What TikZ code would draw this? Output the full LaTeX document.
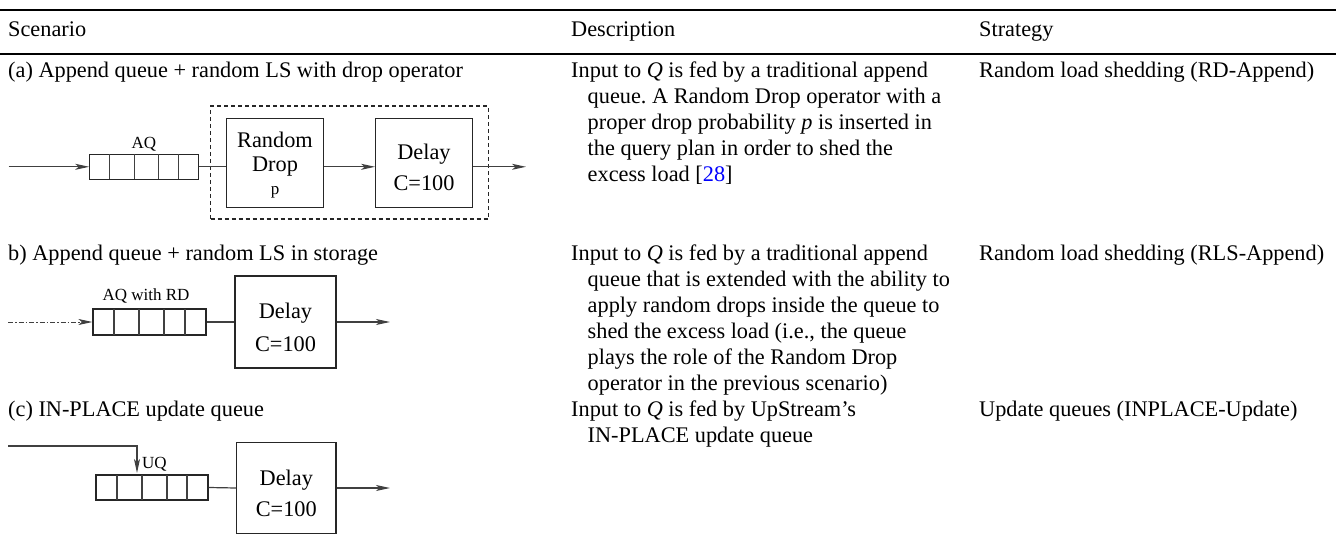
\documentclass[tikz,border=0pt]{standalone}
\usepackage{fontspec}
\setmainfont{Liberation Serif}
\usetikzlibrary{arrows.meta}
\frenchspacing
\begin{document}
\begin{tikzpicture}[x=1pt,y=-1pt,
  txt/.style={anchor=base west, inner sep=0pt, font=\fontsize{22.3}{26}\selectfont},
  lbl/.style={anchor=base, inner sep=0pt, font=\fontsize{22.3}{26}\selectfont},
  sml/.style={anchor=base, inner sep=0pt, font=\fontsize{17}{20}\selectfont},
  opbox/.style={draw=black!85, line width=1.2pt, inner sep=0pt, rectangle},
  conn/.style={draw=black!75, line width=1.2pt},
  arr/.style={conn, -{Stealth[length=14pt,width=6pt,inset=3.5pt]}},
  rulethin/.style={draw=black, line width=1.4pt},
  rulethick/.style={draw=black, line width=2.2pt},
]
\useasboundingbox (0,0) rectangle (1336,548);

% rules
\coordinate (r1l) at (0,10);   \coordinate (r1r) at (1336,10);
\coordinate (r2l) at (0,54);   \coordinate (r2r) at (1336,54);
\draw[rulethin] (r1l) -- (r1r);
\draw[rulethick] (r2l) -- (r2r);

% header
\node[txt] (h1) at (8,37) {Scenario};
\node[txt] (h2) at (571,37) {Description};
\node[txt] (h3) at (979,37) {Strategy};

% ---------- row (a) ----------
\node[txt] (sa) at (8,77.3) {(a) Append queue + random LS with drop operator};
\node[txt] (da1) at (571,77.3) {Input to \textit{Q} is fed by a traditional append};
\node[txt] (da2) at (587.5,103.3) {queue. A Random Drop operator with a};
\node[txt] (da3) at (587.5,129.3) {proper drop probability \textit{p} is inserted in};
\node[txt] (da4) at (587.5,155.3) {the query plan in order to shed the};
\node[txt] (da5) at (587.5,181.3) {excess load [{\color{blue}28}]};
\node[txt] (ta) at (979,77.3) {Random load shedding (RD-Append)};

\node[draw=black!85, line width=1.1pt, dash pattern=on 4pt off 3pt, inner sep=0pt,
      minimum width=277.6pt, minimum height=113pt] (grp) at (349.5,162.5) {};
\node[opbox, minimum width=109pt, minimum height=25pt] (qa) at (144.3,166.8) {};
\foreach \d in {109.7,134.5,158.6,178.6} \draw[conn] (\d,154.3) -- (\d,179.3);
\node[sml] (aq) at (144,149) {AQ};
\coordinate (ina) at (8.6,166.8);
\node[opbox, minimum width=96.6pt, minimum height=89pt] (rd) at (275,162.8) {};
\node[lbl] (rd1) at (275,147.3) {Random};
\node[lbl] (rd2) at (275,171.7) {Drop};
\node[sml] (rd3) at (275,195) {p};
\node[opbox, minimum width=96.6pt, minimum height=88.6pt] (dla) at (424,163) {};
\node[lbl] (dla1) at (424,160) {Delay};
\node[lbl] (dla2) at (424,190.7) {C=100};
\coordinate (outa) at (526,166.8);
\draw[arr] (ina) -- (qa.west);
\draw[conn] (qa.east) -- (qa.east -| rd.west);
\draw[arr] (rd.east |- qa.east) -- (dla.west |- qa.east);
\draw[arr] (dla.east |- qa.east) -- (outa);

% ---------- row (b) ----------
\node[txt] (sb) at (8,260) {b) Append queue + random LS in storage};
\node[txt] (db1) at (571,260) {Input to \textit{Q} is fed by a traditional append};
\node[txt] (db2) at (587.5,286) {queue that is extended with the ability to};
\node[txt] (db3) at (587.5,312) {apply random drops inside the queue to};
\node[txt] (db4) at (587.5,338) {shed the excess load (i.e., the queue};
\node[txt] (db5) at (587.5,364) {plays the role of the Random Drop};
\node[txt] (db6) at (587.5,390) {operator in the previous scenario)};
\node[txt] (tb) at (979,260) {Random load shedding (RLS-Append)};

\node[opbox, minimum width=113pt, minimum height=26pt] (qb) at (149.5,322) {};
\foreach \d in {114,139,164,185} \draw[conn] (\d,309) -- (\d,335);
\node[sml] (aqb) at (146,300) {AQ with RD};
\coordinate (inb) at (8,322);
\node[opbox, minimum width=101pt, minimum height=92pt] (dlb) at (285.5,322) {};
\node[lbl] (dlb1) at (285.5,318) {Delay};
\node[lbl] (dlb2) at (285.5,351) {C=100};
\coordinate (outb) at (390,322);
\draw[arr, line width=0.9pt, dash pattern=on 5pt off 2pt on 1.5pt off 2pt] (inb) -- (qb.west);
\draw[conn] (qb.east) -- (dlb.west);
\draw[arr] (dlb.east) -- (outb);

% ---------- row (c) ----------
\node[txt] (sc) at (8,416) {(c) IN-PLACE update queue};
\node[txt] (dc1) at (571,416) {Input to \textit{Q} is fed by UpStream’s};
\node[txt] (dc2) at (587.5,442) {IN-PLACE update queue};
\node[txt] (tc) at (979,416) {Update queues (INPLACE-Update)};

\node[opbox, minimum width=112pt, minimum height=25pt] (qc) at (152,487.5) {};
\foreach \d in {117,142,167,187} \draw[conn] (\d,475) -- (\d,500);
\node[sml, anchor=base west] (uq) at (142,468) {UQ};
\coordinate (inc) at (8,446);
\coordinate (uqtip) at (137,473);
\node[opbox, minimum width=99.3pt, minimum height=90.6pt] (dlc) at (286.3,488) {};
\node[lbl] (dlc1) at (286.3,485) {Delay};
\node[lbl] (dlc2) at (286.3,516.7) {C=100};
\coordinate (outc) at (390,488);
\draw[arr] (inc) -| (uqtip);
\draw[conn] (qc.east) -- (dlc.west);
\draw[arr] (dlc.east) -- (outc);
\end{tikzpicture}
\end{document}
